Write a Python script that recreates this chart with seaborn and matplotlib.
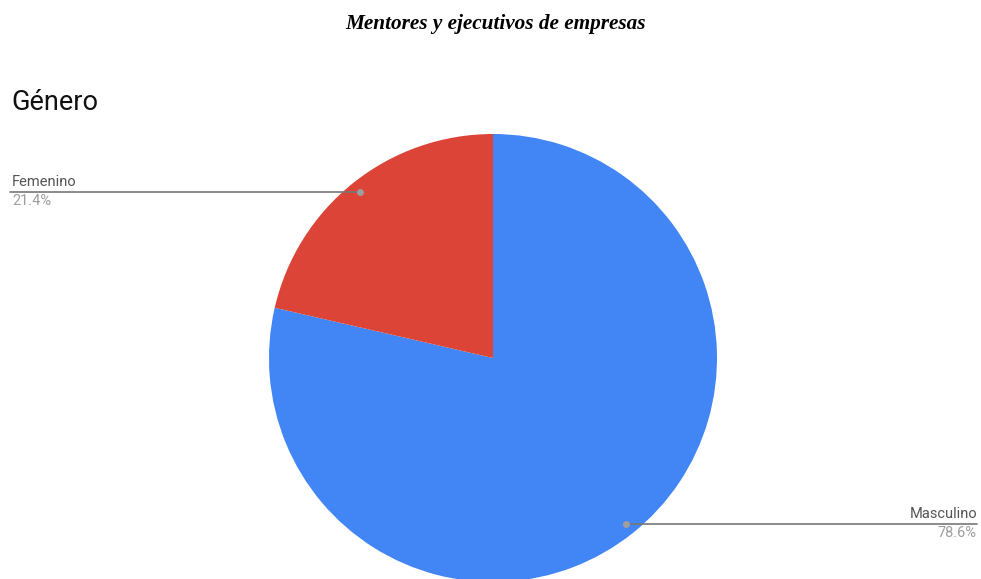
import numpy as np
import matplotlib
matplotlib.use("Agg")
import matplotlib.pyplot as plt
import seaborn as sns

categories = ["Masculino", "Femenino"]
values = [78.6, 21.4]
colors = ["#4285F4", "#DB4437"]
pct_labels = ["78.6%", "21.4%"]

sns.set_theme(style="white")
plt.rcParams["font.family"] = ["Roboto", "DejaVu Sans"]

W, H = 981, 579
fig = plt.figure(figsize=(W / 100, H / 100), dpi=100)
ax = fig.add_axes([0, 0, 1, 1])

cx, cy, r = 493, H - 358, 224
wedges, _ = ax.pie(values, colors=colors, startangle=90, counterclock=False,
                   center=(cx, cy), radius=r, frame=True,
                   wedgeprops=dict(linewidth=0))
ax.set_xlim(0, W)
ax.set_ylim(0, H)
ax.set_aspect("equal")
ax.axis("off")

# leader lines with dot inside each wedge
for w, name, pct in zip(wedges, categories, pct_labels):
    mid = np.deg2rad((w.theta1 + w.theta2) / 2)
    px = cx + 0.95 * r * np.cos(mid)
    py = cy + 0.95 * r * np.sin(mid)
    if np.cos(mid) < 0:
        xe, ha = 10, "left"
    else:
        xe, ha = 977, "right"
    ax.plot([px, xe], [py, py], color="#777777", lw=1.2, zorder=3)
    ax.plot(px, py, "o", color="#9e9e9e", ms=4, zorder=4)
    ax.text(xe + (2 if ha == "left" else 0), py + 3, name, ha=ha, va="bottom",
            fontsize=10.5, color="#555555")
    ax.text(xe + (2 if ha == "left" else 0), py - 2, pct, ha=ha, va="top",
            fontsize=10.5, color="#9e9e9e")

fig.text(11 / W, 1 - 102 / H, "Género", fontsize=19.5, color="#111111",
         ha="left", va="center")
fig.text(496 / W, 1 - 24 / H, "Mentores y ejecutivos de empresas",
         fontsize=15.3, fontweight="bold", fontstyle="italic", color="black",
         family=["Liberation Serif", "DejaVu Serif"], ha="center", va="center")

fig.savefig("out.png", dpi=100)
